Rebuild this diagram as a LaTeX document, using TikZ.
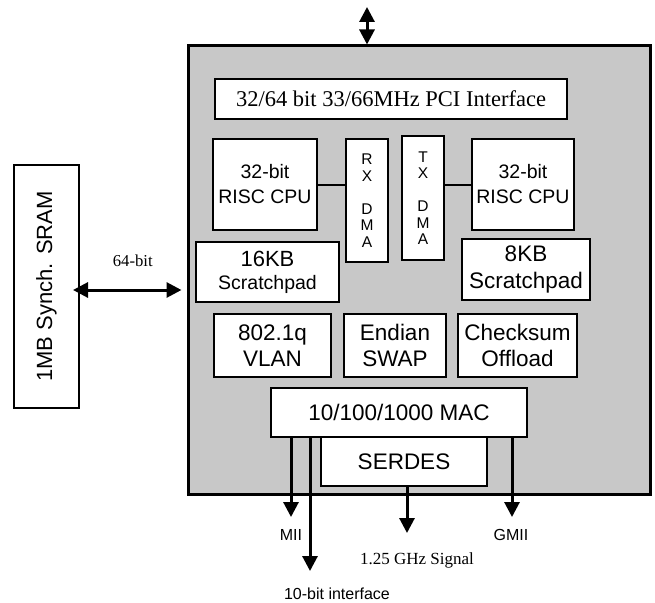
\documentclass[tikz,border=0pt]{standalone}
\usepackage{fontspec}
\setmainfont{Liberation Sans}
\newfontfamily\timesfont{Liberation Serif}
\usepackage{tikz}
\usetikzlibrary{%
  arrows.meta,%
  positioning% wg. " of "
}
\definecolor{chipgray}{RGB}{200,200,200}

\begin{document}
\begin{tikzpicture}[x=1pt,y=-1pt,
    >={Triangle[width=15pt,length=15pt]},
    blk/.style={draw,fill=white,line width=1.2pt,inner sep=0pt,outer sep=0pt,align=center},
    big/.style={font=\fontsize{22.5}{26}\selectfont},
    lbl/.style={inner sep=0pt,font=\fontsize{16}{18}\selectfont},
    bus/.style={line width=3pt,->},
    dbus/.style={line width=3pt,<->},
    wire/.style={line width=2pt}]
    \useasboundingbox (0,0) rectangle (655,602);

    %chip
    \node[draw,fill=chipgray,line width=3pt,minimum width=462pt,minimum height=448pt] (chip) at (419,270) {};
    \node[blk,minimum width=352pt,minimum height=40pt,font=\timesfont\fontsize{22.5}{26}\selectfont] (pci) at (391,99) {32/64 bit 33/66MHz PCI Interface};

    %cpus and dma
    \node[blk,minimum width=104pt,minimum height=91pt,font=\fontsize{19.5}{25}\selectfont] (cpul) at (265,184.5) {32-bit\\RISC CPU};
    \node[blk,minimum width=42pt,minimum height=123pt,font=\fontsize{15.5}{16.5}\selectfont] (rxdma) at (367,200.5) {R\\X\\[16.5pt]D\\M\\A};
    \node[blk,minimum width=42pt,minimum height=124pt,font=\fontsize{15.5}{16.5}\selectfont] (txdma) at (423,198) {T\\X\\[16.5pt]D\\M\\A};
    \node[blk,minimum width=102pt,minimum height=91pt,font=\fontsize{19.5}{25}\selectfont] (cpur) at (523,184.5) {32-bit\\RISC CPU};

    %scratchpads
    \node[blk,minimum width=143pt,minimum height=60pt,font=\fontsize{22}{23}\selectfont] (spl) at (267.5,272) {16KB\\{\fontsize{19.5}{23}\selectfont Scratchpad}};
    \node[blk,big,minimum width=128pt,minimum height=61pt,font=\fontsize{22.5}{27}\selectfont] (spr) at (526,269.5) {8KB\\Scratchpad};

    %offload row
    \node[blk,big,minimum width=117pt,minimum height=63pt] (vlan) at (272.5,345.5) {802.1q\\VLAN};
    \node[blk,big,minimum width=102pt,minimum height=63pt] (endian) [right=13pt of vlan] {Endian\\SWAP};
    \node[blk,big,minimum width=119pt,minimum height=63pt] (csum) [right=12pt of endian] {Checksum\\Offload};

    %mac
    \node[blk,big,minimum width=256pt,minimum height=49pt] (mac) at (399,412.5) {10/100/1000 MAC};
    \node[blk,big,minimum width=166pt,minimum height=49pt] (serdes) [below=0pt of mac,xshift=5pt] {SERDES};

    %sram
    \node[blk,minimum width=65pt,minimum height=243pt,font=\fontsize{22}{24}\selectfont] (sram) at (46.5,286.5) {\rotatebox{90}{1MB Synch. SRAM}};

    %buses
    \coordinate (pcitop) at (367,7);
    \coordinate (lnk) at (0,290);
    \coordinate (miiend) at (291,517);
    \coordinate (tbiend) at (310,571);
    \coordinate (sigend) at (407,533);
    \coordinate (gmiiend) at (512,517);

    \draw[wire] (cpul.east) -- (rxdma.west |- cpul.east);
    \draw[wire] (txdma.east |- cpur.west) -- (cpur.west);
    \draw[dbus] (pcitop) -- (chip.north -| pcitop);
    \draw[dbus,shorten <=-6pt,shorten >=5pt] (sram.east |- lnk) -- node[above=22pt,inner sep=0pt,font=\timesfont\fontsize{16.7}{18}\selectfont] {64-bit} (chip.west |- lnk);
    \draw[bus] (mac.south -| miiend) -- (miiend);
    \draw[bus] (mac.south -| tbiend) -- (tbiend);
    \draw[bus] (serdes.south -| sigend) -- (sigend);
    \draw[bus] (mac.south -| gmiiend) -- (gmiiend);

    \node[lbl] (mii) [below=12pt of miiend] {MII};
    \node[lbl] (tbi) [below=17pt of tbiend,xshift=27pt] {10-bit interface};
    \node[lbl,font=\timesfont\fontsize{17}{19}\selectfont] (sig) [below=19pt of sigend,xshift=10pt] {1.25 GHz Signal};
    \node[lbl] (gmii) [below=12pt of gmiiend,xshift=-1pt] {GMII};
\end{tikzpicture}
\end{document}
